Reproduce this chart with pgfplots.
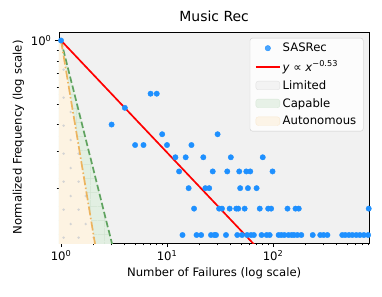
\documentclass[border=0pt]{standalone}
\usepackage{pgfplots}
\pgfplotsset{compat=1.18}
\usepackage{pgfplotstable}
\usepackage{fontspec}
\setmainfont{DejaVu Sans}
\usetikzlibrary{patterns.meta}

\definecolor{sasblue}{RGB}{30,144,255}
\definecolor{limgray}{RGB}{241,241,241}
\definecolor{capgreen}{RGB}{226,239,226}
\definecolor{autoorange}{RGB}{253,243,226}
\definecolor{greenline}{RGB}{95,163,95}
\definecolor{orangeline}{RGB}{236,180,95}
\definecolor{legframe}{RGB}{204,204,204}

\tikzdeclarepattern{
  name=stagdots, type=uncolored,
  bottom left={(0bp,0bp)}, top right={(15bp,28bp)},
  tile size={(15bp,28bp)},
  code={\fill (3.75bp,3.5bp) circle (1.4bp); \fill (11.25bp,17.5bp) circle (1.4bp);}
}
\tikzdeclarepattern{
  name=sgrid, type=uncolored,
  bottom left={(0bp,0bp)}, top right={(14bp,14bp)},
  tile size={(14bp,14bp)},
  code={\draw[line width=0.6bp] (0bp,7bp) -- (14bp,7bp); \draw[line width=0.6bp] (7bp,0bp) -- (7bp,14bp);}
}

% x = number of failures, y = normalized frequency (count/25)
\pgfplotstableread{
x y
1 1.00
7 0.56
8 0.56
4 0.48
3 0.40
9 0.36
30 0.36
5 0.32
6 0.32
10 0.32
17 0.32
12 0.28
15 0.28
22 0.28
40 0.28
80 0.28
13 0.24
27 0.24
37 0.24
48 0.24
56 0.24
61 0.24
99 0.24
16 0.20
23 0.20
25 0.20
49 0.20
58 0.20
70 0.20
18 0.16
31 0.16
33 0.16
39 0.16
45 0.16
47 0.16
54 0.16
75 0.16
90 0.16
96 0.16
137 0.16
163 0.16
175 0.16
800 0.16
14 0.12
19 0.12
21 0.12
26 0.12
28 0.12
29 0.12
36 0.12
46 0.12
51 0.12
57 0.12
62 0.12
66 0.12
78 0.12
87 0.12
93 0.12
113 0.12
120 0.12
128 0.12
140 0.12
150 0.12
158 0.12
170 0.12
185 0.12
237 0.12
279 0.12
300 0.12
326 0.12
450 0.12
480 0.12
520 0.12
560 0.12
610 0.12
660 0.12
720 0.12
790 0.12
}\sasrec

\pgfplotsset{
  dotlegend/.style={legend image code/.code={\draw[sasblue] plot[mark=*, mark size=2.7bp, only marks] coordinates {(12bp,0bp)};}},
  linelegend/.style={legend image code/.code={\draw[red, line width=1.7bp] (0bp,0bp) -- (24bp,0bp);}},
}

\begin{document}
\begin{tikzpicture}
\useasboundingbox (-59bp,-54bp) rectangle (323bp,243bp);
\begin{axis}[
  at={(0bp,0bp)}, anchor=south west,
  scale only axis, width=310.3bp, height=211bp,
  xmode=log, ymode=log,
  xmin=0.957, xmax=810, ymin=0.110, ymax=1.097,
  axis background/.style={fill=limgray},
  axis line style={line width=0.9bp},
  tick align=outside, tick pos=left,
  major tick length=4.1bp, minor tick length=2.3bp,
  every tick/.style={black, line width=0.9bp},
  every minor tick/.style={black, line width=0.7bp},
  xtick={1,10,100},
  xticklabels={10\textsuperscript{0},10\textsuperscript{1},10\textsuperscript{2}},
  minor xtick={2,3,4,5,6,7,8,9,20,30,40,50,60,70,80,90,200,300,400,500,600,700,800},
  ytick={1}, yticklabels={10\textsuperscript{0}},
  minor ytick={0.2,0.3,0.4,0.5,0.6,0.7,0.8,0.9},
  tick label style={font=\fontsize{11.7}{14}\selectfont},
  label style={font=\fontsize{11.7}{14}\selectfont},
  title style={font=\fontsize{14}{16}\selectfont, yshift=0.5bp},
  title={Music Rec},
  xlabel={Number of Failures (log scale)},
  ylabel={Normalized Frequency (log scale)},
  legend style={at={(0.981,0.972)}, anchor=north east, draw=legframe,
    rounded corners=2.5bp, fill=white, fill opacity=0.8, text opacity=1, draw opacity=1,
    nodes={font=\fontsize{11.7}{14}\selectfont},
    row sep=3.6bp, inner xsep=5bp, inner ysep=3bp},
  legend cell align=left,
]
% regions
\addplot[draw=none, fill=capgreen, postaction={pattern=sgrid, pattern color={rgb,255:red,208;green,227;blue,208}}, forget plot]
  coordinates {(1,1) (4,0.0625) (4,0.01) (0.9,0.01) (0.9,1)};
\addplot[draw=none, fill=autoorange, postaction={pattern=stagdots, pattern color={rgb,255:red,212;green,212;blue,212}}, forget plot]
  coordinates {(1,1) (3,0.037037) (3,0.01) (0.9,0.01) (0.9,1)};
\addplot[greenline, line width=1.7bp, dash pattern=on 6.5bp off 2.8bp, forget plot]
  coordinates {(1,1) (4,0.0625)};
\addplot[orangeline, line width=1.7bp, dash pattern=on 9bp off 2.4bp on 1.5bp off 2.4bp, forget plot]
  coordinates {(1,1) (3,0.037037)};
% data
\addplot[only marks, mark=*, mark size=2.7bp, color=sasblue, dotlegend]
  table[x=x, y=y] {\sasrec};
\addlegendentry{SASRec}
\addplot[red, line width=1.7bp, linelegend]
  coordinates {(1,1) (100,0.087096)};
\addlegendentry{\rule[-6.5bp]{0pt}{6bp}\textit{y} ∝ \textit{x}\textsuperscript{−0.53}}
\addlegendimage{legend image code/.code={\fill[limgray, draw={rgb,255:red,225;green,225;blue,225}] (0bp,-4.3bp) rectangle (24bp,4.3bp);}}
\addlegendentry{Limited}
\addlegendimage{legend image code/.code={\fill[capgreen, draw={rgb,255:red,215;green,232;blue,215}] (0bp,-4.3bp) rectangle (24bp,4.3bp);}}
\addlegendentry{Capable}
\addlegendimage{legend image code/.code={\fill[autoorange, draw={rgb,255:red,248;green,232;blue,208}] (0bp,-4.3bp) rectangle (24bp,4.3bp);}}
\addlegendentry{Autonomous}
\end{axis}
\end{tikzpicture}
\end{document}
